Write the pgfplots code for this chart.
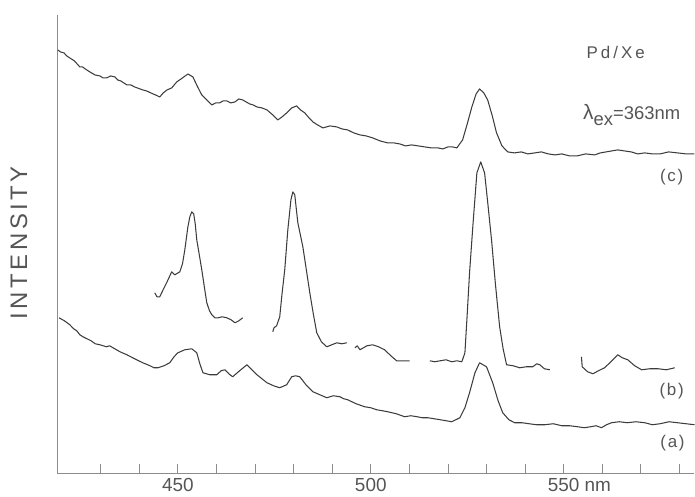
\documentclass[border=0pt]{standalone}
\usepackage{pgfplots}
\pgfplotsset{compat=1.18}
\usepackage{fontspec}
\setmainfont{Liberation Sans}
\definecolor{trace}{HTML}{3C3C3C}
\definecolor{axisgray}{HTML}{8C8C8C}
\definecolor{txt}{HTML}{555555}
\begin{document}
\begin{tikzpicture}
\begin{axis}[
  scale only axis,
  width=637bp, height=459bp,
  xmin=418.9, xmax=583.9, ymin=0, ymax=459,
  axis x line=bottom, axis y line=left,
  axis line style={-, draw=axisgray, line width=0.8pt},
  ytick=\empty,
  xtick={430,440,...,580},
  xticklabels={{},{},450,{},{},{},{},500,{},{},{},{},{550\rlap{ nm}},{},{},{}},
  tick align=inside,
  major tick length=10bp,
  tick style={draw=axisgray, line width=0.8pt},
  xticklabel style={font=\fontsize{19}{19}\selectfont, text=txt, yshift=-1bp},
  /pgf/number format/assume math mode=true,
  clip=false,
  tr/.style={draw=trace, line width=1.05pt, no marks, line join=round},
]
% bounding box of the whole figure
\path (axis cs:403.9,-23) rectangle (axis cs:583.9,474);

% (c)
\addplot[tr] coordinates {
(418.9,424) (419.6,422) (420.5,421) (421.2,418) (422.0,416) (423.2,413) (423.9,410) (424.6,407) (425.3,407) (426.0,405) (427.2,402) (428.5,399) (429.8,398)
(430.6,396) (431.5,396) (432.6,398) (433.7,397) (434.4,394) (435.2,393) (436.8,389) (437.8,389) (438.8,387) (440.9,384) (441.9,383) (443.0,381) (444.2,379) (445.3,377)
(446.2,381) (447.2,384) (448.4,386) (449.7,392) (451.2,396) (452.6,400) (453.9,397) (455.0,388) (456.2,379) (457.5,374) (458.8,369)
(459.8,371) (460.8,371) (461.7,373) (462.7,373) (463.7,371) (464.8,372) (465.8,375) (466.8,374) (468.6,370) (469.5,369) (470.5,367) (471.8,366) (473.1,364) (474.6,359) (475.9,354)
(477.0,357) (478.2,361) (479.5,366) (480.8,368) (481.8,364) (482.9,361) (484.0,356) (485.0,352) (486.2,349) (487.6,346) (488.5,347) (489.4,348) (491.2,347)
(492.5,345) (494.0,344) (495.6,341) (497.2,339) (498.8,338) (500.5,336) (502.4,333) (504.4,331) (506.0,331) (507.5,330) (509.0,328) (510.6,329) (512.3,328) (514.0,327) (515.7,326) (517.4,326) (518.7,325) (520.0,327) (521.2,327) (522.3,326)
(523.8,334) (525.0,350) (526.2,367) (527.3,380) (528.2,385) (529.3,381) (530.3,374) (531.5,358) (532.6,341)
(534.0,328) (535.5,322) (537.2,321) (539.0,322) (540.7,320) (542.5,321) (544.2,322) (546.0,320) (547.8,319) (549.5,320) (551.5,318) (553.5,318) (555.7,320) (558.0,319) (559.5,321) (561.0,322)
(562.5,323) (564.0,324) (565.7,323) (567.5,322) (569.2,320) (571.0,321) (573.0,320) (575.0,320) (577.2,322) (579.5,321) (581.7,320) (583.9,320)
};

% (b) segments
\addplot[tr] coordinates {
(444.0,181) (444.6,177) (445.3,177) (446.3,185) (447.2,192) (448.4,202) (449.2,199) (450.5,202) (451.2,210) (451.8,224)
(452.6,247) (453.1,257) (453.6,262) (454.1,260) (454.5,250) (454.9,234) (455.6,218) (456.2,204) (456.9,186)
(457.5,171) (458.2,163) (458.8,159) (459.6,156) (460.4,156) (461.5,157) (462.7,156) (463.8,154) (464.8,151) (465.8,153) (466.8,156)
};
\addplot[tr] coordinates {
(474.6,142) (474.9,146) (475.6,148) (476.4,157) (477.0,180) (477.7,204) (478.5,244) (479.3,274) (479.8,282) (480.3,279)
(481.1,251) (482.4,227) (483.3,204) (484.2,181) (485.1,160) (486.0,141) (487.2,132) (488.6,127) (489.9,129) (491.2,131) (492.5,130) (493.8,131)
};
\addplot[tr] coordinates {
(495.9,126) (496.5,128) (497.2,124) (499.0,128) (500.5,129) (502.0,127) (503.6,124) (505.2,118) (506.7,113) (508.4,113) (510.1,113)
};
\addplot[tr] coordinates {
(515.3,113) (516.6,112) (518.0,113) (519.5,114) (521.0,112) (522.3,113) (523.6,112) (524.4,121) (525.0,160) (525.6,201) (526.5,250) (527.5,301)
(528.5,312) (529.5,301) (530.4,268) (531.3,234) (532.3,190) (533.4,147) (534.3,125) (535.2,109) (536.9,108) (538.6,106)
(540.3,107) (542.0,107) (543.0,110) (543.8,109) (545.0,105) (546.4,104)
};
\addplot[tr] coordinates {
(554.6,117) (554.8,107) (556.2,102) (557.6,100) (559.0,103) (560.6,106) (562.5,113) (564.0,119) (565.2,116) (566.6,114) (568.4,108) (570.2,104) (572.3,105) (574.5,105) (576.6,104) (578.8,106)
};

% (a)
\addplot[tr] coordinates {
(419.2,156) (420.6,153) (422.0,149) (423.0,145) (423.8,143) (424.6,139) (425.4,137) (427.5,133) (428.6,130) (429.8,129) (431.5,127) (432.3,128) (433.2,126)
(435.0,122) (436.8,119) (437.8,117) (438.8,115) (440.9,111) (442.8,108) (443.8,106) (444.8,106) (446.4,108) (447.9,111) (449.0,117) (450.0,121)
(451.8,124) (453.6,125) (454.9,121) (455.7,110) (456.5,101) (457.4,100) (458.3,99) (460.1,99) (461.2,103) (462.2,104) (463.2,100) (464.2,97)
(466.0,103) (467.9,109) (469.2,104) (470.5,99) (471.8,95) (473.1,91) (474.8,88) (476.4,86) (478.2,89) (479.5,97) (480.5,98) (481.6,97)
(483.2,89) (485.0,82) (486.8,79) (488.6,76) (490.3,78) (492.0,77) (493.0,75) (494.0,74) (496.2,70) (498.4,67) (500.0,66) (501.5,64) (503.0,63) (504.4,62) (506.6,60)
(508.8,57) (510.4,58) (512.0,57) (513.4,56) (514.8,56) (516.4,55) (518.0,54) (519.5,53) (521.0,52) (523.1,56) (524.4,66) (525.6,81) (527.0,101) (528.2,111)
(530.0,107) (531.6,91) (533.0,73) (534.2,61) (535.8,54) (537.3,51) (539.2,51) (541.0,50) (543.0,49) (545.1,49) (547.3,50) (549.5,48) (551.5,48) (553.6,47)
(555.3,46) (557.0,47) (558.4,48) (559.8,46) (561.1,49) (562.4,51) (564.4,52) (566.5,51) (568.7,52) (571.0,51) (573.0,49) (575.0,50) (577.3,52) (579.5,51) (581.7,50) (583.9,49)
};

% text
\node[rotate=90, text=txt, font=\fontsize{24}{24}\selectfont\addfontfeature{LetterSpace=15}] at (axis cs:408.8,231) {INTENSITY};
\node[text=txt, font=\fontsize{17}{17}\selectfont\addfontfeature{LetterSpace=18}] at (axis cs:563.5,422) {Pd/Xe};
\node[text=txt, anchor=west, font=\fontsize{18.5}{18.5}\selectfont, inner sep=0pt] at (axis cs:555.0,359) {{\fontsize{21}{21}\selectfont λ}\raisebox{-0.35em}{ex}=363nm};
\node[text=txt, font=\fontsize{17}{17}\selectfont\addfontfeature{LetterSpace=10}] at (axis cs:578.0,297) {(c)};
\node[text=txt, font=\fontsize{17}{17}\selectfont\addfontfeature{LetterSpace=10}] at (axis cs:578.0,83) {(b)};
\node[text=txt, font=\fontsize{17}{17}\selectfont\addfontfeature{LetterSpace=10}] at (axis cs:578.2,31) {(a)};
\end{axis}
\end{tikzpicture}
\end{document}
